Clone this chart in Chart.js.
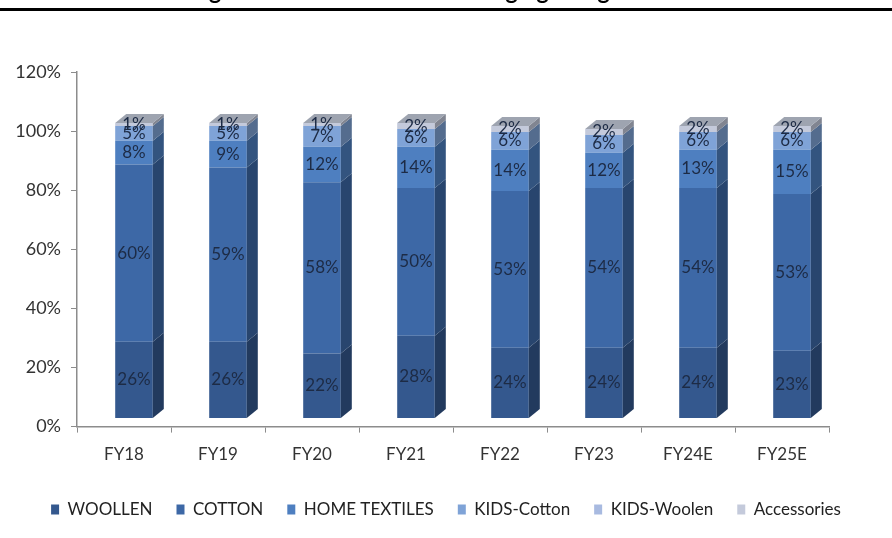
<!DOCTYPE html>
<html>
<head>
<meta charset="utf-8">
<script src="https://cdn.jsdelivr.net/npm/chart.js@4.4.1/dist/chart.umd.min.js"></script>
<style>
  html, body { margin: 0; padding: 0; background: #fff; }
  #wrap { width: 892px; height: 538px; position: relative; }
</style>
</head>
<body>
<div id="wrap"><canvas id="chart" width="892" height="538"></canvas></div>
<script>
// category axis + stacked shares (in %)
var years = ['FY18', 'FY19', 'FY20', 'FY21', 'FY22', 'FY23', 'FY24E', 'FY25E']
var woollen = [26, 26, 22, 28, 24, 24, 24, 23]
var cotton = [60, 59, 58, 50, 53, 54, 54, 53]
var homeTextiles = [8, 9, 12, 14, 14, 12, 13, 15]
var kidsCotton = [5, 5, 7, 6, 6, 6, 6, 6]
var kidsWoolen = [0, 0, 0, 0, 0, 0, 0, 0]
var accessories = [1, 1, 1, 2, 2, 2, 2, 2]
var yTicks = [0, 20, 40, 60, 80, 100, 120]

var titleText = 'Exhibit 12: Increasing contribution from the emerging categories'

var FONT = 'Lato, "Open Sans", sans-serif'

// depth of the fake 3d boxes
var depthX = 11, depthY = 9
// front faces sit a bit right/up of the back wall
var shiftX = 10, shiftY = -8

function shade(hex, f) {
    var n = parseInt(hex.slice(1), 16)
    var r = Math.round(((n >> 16) & 255) * f)
    var g = Math.round(((n >> 8) & 255) * f)
    var b = Math.round((n & 255) * f)
    return 'rgb(' + r + ',' + g + ',' + b + ')'
}

var boxes3d = {
    id: 'boxes3d',
    beforeDraw(chart) {
        var ctx = chart.ctx
        ctx.save()
        ctx.fillStyle = '#fff'
        ctx.fillRect(0, 0, chart.width, chart.height)
        // heading, mostly above the top edge, and the rule under it
        ctx.fillStyle = '#000'
        ctx.font = 'bold 23px ' + FONT
        ctx.textBaseline = 'alphabetic'
        ctx.textAlign = 'left'
        ctx.fillText(titleText, 2, -1)
        ctx.fillRect(0, 8, chart.width, 3)
        ctx.restore()
    },
    beforeDatasetsDraw(chart) {
        chart.ctx.save()
        chart.ctx.translate(shiftX, shiftY)
    },
    afterDatasetsDraw(chart) {
        var ctx = chart.ctx
        var sets = chart.data.datasets
        // right side faces
        sets.forEach(function (ds, di) {
            var meta = chart.getDatasetMeta(di)
            meta.data.forEach(function (bar, i) {
                if (!ds.data[i]) return
                var p = bar.getProps(['x', 'y', 'base', 'width'], true)
                var right = p.x + p.width / 2
                ctx.fillStyle = shade(ds.backgroundColor, 0.66)
                ctx.beginPath()
                ctx.moveTo(right, p.y)
                ctx.lineTo(right + depthX, p.y - depthY)
                ctx.lineTo(right + depthX, p.base - depthY)
                ctx.lineTo(right, p.base)
                ctx.closePath()
                ctx.fill()
            })
        })
        // top face of each stack
        years.forEach(function (y, i) {
            for (var di = sets.length - 1; di >= 0; di--) {
                if (sets[di].data[i] > 0) {
                    var p = chart.getDatasetMeta(di).data[i].getProps(['x', 'y', 'width'], true)
                    var left = p.x - p.width / 2, right = p.x + p.width / 2
                    ctx.fillStyle = '#9ea4b0'
                    ctx.beginPath()
                    ctx.moveTo(left, p.y)
                    ctx.lineTo(left + depthX, p.y - depthY)
                    ctx.lineTo(right + depthX, p.y - depthY)
                    ctx.lineTo(right, p.y)
                    ctx.closePath()
                    ctx.fill()
                    break
                }
            }
        })
        // value labels
        ctx.font = '17px ' + FONT
        ctx.fillStyle = '#1d2b45'
        ctx.textAlign = 'center'
        ctx.textBaseline = 'middle'
        sets.forEach(function (ds, di) {
            var meta = chart.getDatasetMeta(di)
            meta.data.forEach(function (bar, i) {
                var v = ds.data[i]
                if (!v) return
                var p = bar.getProps(['x', 'y', 'base'], true)
                ctx.fillText(v + '%', p.x, (p.y + p.base) / 2)
            })
        })
        ctx.restore()
    }
}

var ctx = document.getElementById('chart').getContext('2d')
var myChart = new Chart(ctx, {
    type: 'bar',
    data: {
        labels: years,
        datasets: [
            { label: 'WOOLLEN', data: woollen, backgroundColor: '#34588e' },
            { label: 'COTTON', data: cotton, backgroundColor: '#3d68a6' },
            { label: 'HOME TEXTILES', data: homeTextiles, backgroundColor: '#4e7fc0' },
            { label: 'KIDS-Cotton', data: kidsCotton, backgroundColor: '#7fa3d7' },
            { label: 'KIDS-Woolen', data: kidsWoolen, backgroundColor: '#a8bae0' },
            { label: 'Accessories', data: accessories, backgroundColor: '#c4cadb' }
        ]
    },
    options: {
        responsive: false,
        animation: false,
        devicePixelRatio: 1,
        layout: { padding: { top: 72, right: 0, bottom: 10, left: 0 } },
        datasets: { bar: { categoryPercentage: 1, barPercentage: 0.4, borderWidth: 0 } },
        scales: {
            x: {
                stacked: true,
                border: { color: '#8c8c8c', width: 1.5 },
                grid: { offset: true, drawOnChartArea: false, tickLength: 6, color: '#8c8c8c' },
                ticks: { color: '#333', font: { family: FONT, size: 17 }, padding: 12 }
            },
            y: {
                stacked: true,
                min: 0,
                max: 120,
                border: { color: '#8c8c8c', width: 1.5 },
                grid: { drawOnChartArea: false, tickLength: 6, color: '#8c8c8c' },
                afterBuildTicks(scale) { scale.ticks = yTicks.map(v => ({ value: v })) },
                afterFit(scale) { scale.width = 77 },
                ticks: {
                    color: '#333',
                    font: { family: FONT, size: 18 },
                    padding: 10,
                    callback: v => v + '%'
                }
            },
            // empty right-hand gutter so the legend can use the full width
            gutter: {
                position: 'right',
                grid: { display: false },
                border: { display: false },
                ticks: { display: false },
                afterFit(scale) { scale.width = 63 }
            }
        },
        plugins: {
            legend: {
                position: 'bottom',
                labels: {
                    boxWidth: 8,
                    boxHeight: 10,
                    padding: 24,
                    color: '#222',
                    font: { family: FONT, size: 17 }
                }
            },
            tooltip: { enabled: false }
        }
    },
    plugins: [boxes3d]
})
</script>
</body>
</html>
